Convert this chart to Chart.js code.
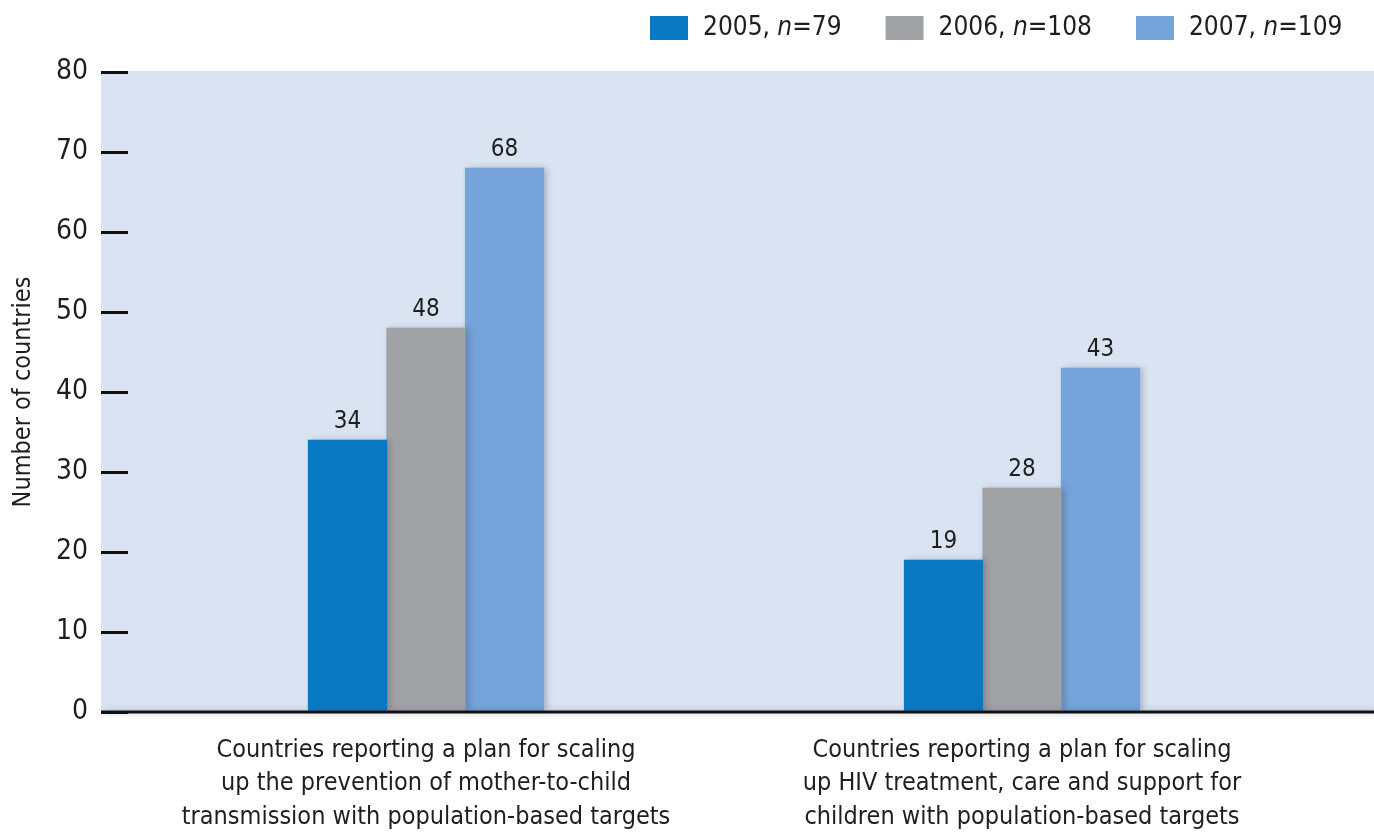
<!DOCTYPE html>
<html>
<head>
<meta charset="utf-8">
<script src="https://cdn.jsdelivr.net/npm/chart.js@4.4.1/dist/chart.umd.min.js"></script>
<style>
  html,body{margin:0;padding:0;background:#fff;}
  #wrap{width:1374px;height:834px;position:relative;}
</style>
</head>
<body>
<div id="wrap"><canvas id="plans" width="1374" height="834"></canvas></div>
<script>
/* ---- data ---- */
const categories = [
  ['Countries reporting a plan for scaling','up the prevention of mother-to-child','transmission with population-based targets'],
  ['Countries reporting a plan for scaling','up HIV treatment, care and support for','children with population-based targets']
];
const years   = ['2005','2006','2007'];
const nCounts = ['79','108','109'];
const v2005 = [34, 19];
const v2006 = [48, 28];
const v2007 = [68, 43];
const yTicks = [0,10,20,30,40,50,60,70,80];

const COLORS = ['#0a79c4','#a1a2a6','#76a4da'];
const PLOT_BG = '#d9e3f1';
const FONT = "'Liberation Sans Narrow','DejaVu Sans Condensed','Liberation Sans',sans-serif";
const INK = '#1e1e1e';

/* plot background + baseline, extended under the tick marks and to the right edge */
const plotFrame = {
  id:'plotFrame',
  beforeDraw(chart){
    const {ctx, chartArea:a} = chart;
    ctx.save();
    ctx.fillStyle = PLOT_BG;
    ctx.fillRect(101, a.top - 1, chart.width - 101, a.bottom - a.top + 1);
    ctx.restore();
  },
  afterDatasetsDraw(chart){
    const {ctx, chartArea:a} = chart;
    ctx.save();
    ctx.strokeStyle = '#111'; ctx.lineWidth = 3;
    ctx.beginPath(); ctx.moveTo(101, a.bottom); ctx.lineTo(chart.width, a.bottom); ctx.stroke();
    ctx.restore();
  }
};

/* soft shadow behind the bars */
const barShadow = {
  id:'barShadow',
  beforeDatasetsDraw(chart){
    const ctx = chart.ctx; ctx.save();
    ctx.shadowColor = 'rgba(50,60,80,0.28)'; ctx.shadowBlur = 6; ctx.shadowOffsetX = 3;
  },
  afterDatasetsDraw(chart){ chart.ctx.restore(); }
};

/* value labels above each bar */
const valueLabels = {
  id:'valueLabels',
  afterDatasetsDraw(chart){
    const ctx = chart.ctx; ctx.save();
    ctx.font = `24px ${FONT}`; ctx.fillStyle = INK;
    ctx.textAlign = 'center'; ctx.textBaseline = 'alphabetic';
    chart.data.datasets.forEach((ds,i)=>{
      chart.getDatasetMeta(i).data.forEach((bar,j)=>{
        ctx.fillText(String(ds.data[j]), bar.x, bar.y - 12);
      });
    });
    ctx.restore();
  }
};

/* legend: square + "2005, n=79" with italic n */
const yearLegend = {
  id:'yearLegend',
  afterDraw(chart){
    const ctx = chart.ctx; ctx.save();
    const normal = `26px ${FONT}`, italic = `italic 26px ${FONT}`;
    let x = 650; const y = 28;
    ctx.textBaseline = 'middle';
    years.forEach((yr,i)=>{
      ctx.fillStyle = COLORS[i];
      ctx.fillRect(x, 16, 38, 24);
      x += 38 + 15;
      ctx.fillStyle = INK;
      const parts = [[yr + ', ', normal],['n', italic],['=' + nCounts[i], normal]];
      parts.forEach(([t,f])=>{ ctx.font = f; ctx.fillText(t, x, y); x += ctx.measureText(t).width; });
      x += 44;
    });
    ctx.restore();
  }
};

const ds = [v2005, v2006, v2007].map((d,i)=>({
  label: years[i] + ', n=' + nCounts[i], data: d, backgroundColor: COLORS[i],
  borderWidth: 0, barThickness: 78.5
}));

new Chart(document.getElementById('plans'), {
  type:'bar',
  data:{labels:categories, datasets:ds},
  options:{
    responsive:false, animation:false,
    layout:{padding:{top:72, right:54, left:0, bottom:0}},
    plugins:{legend:{display:false}, tooltip:{enabled:false}},
    scales:{
      x:{
        grid:{display:false}, border:{display:false},
        ticks:{font:{family:FONT, size:25, lineHeight:1.33}, color:INK, padding:14, maxRotation:0, autoSkip:false},
        afterFit(s){ s.height = 122; }
      },
      y:{
        min:0, max:80,
        afterBuildTicks(s){ s.ticks = yTicks.map(v=>({value:v})); },
        grid:{drawOnChartArea:false, drawTicks:true, tickLength:27, color:'#111', lineWidth:3},
        border:{display:false},
        ticks:{font:{family:FONT, size:28}, color:INK, padding:13},
        title:{display:true, text:'Number of countries', font:{family:FONT, size:25}, color:INK, padding:{top:8,bottom:0}},
        afterFit(s){ s.width = 128; }
      }
    }
  },
  plugins:[plotFrame, barShadow, valueLabels, yearLegend]
});
</script>
</body>
</html>
